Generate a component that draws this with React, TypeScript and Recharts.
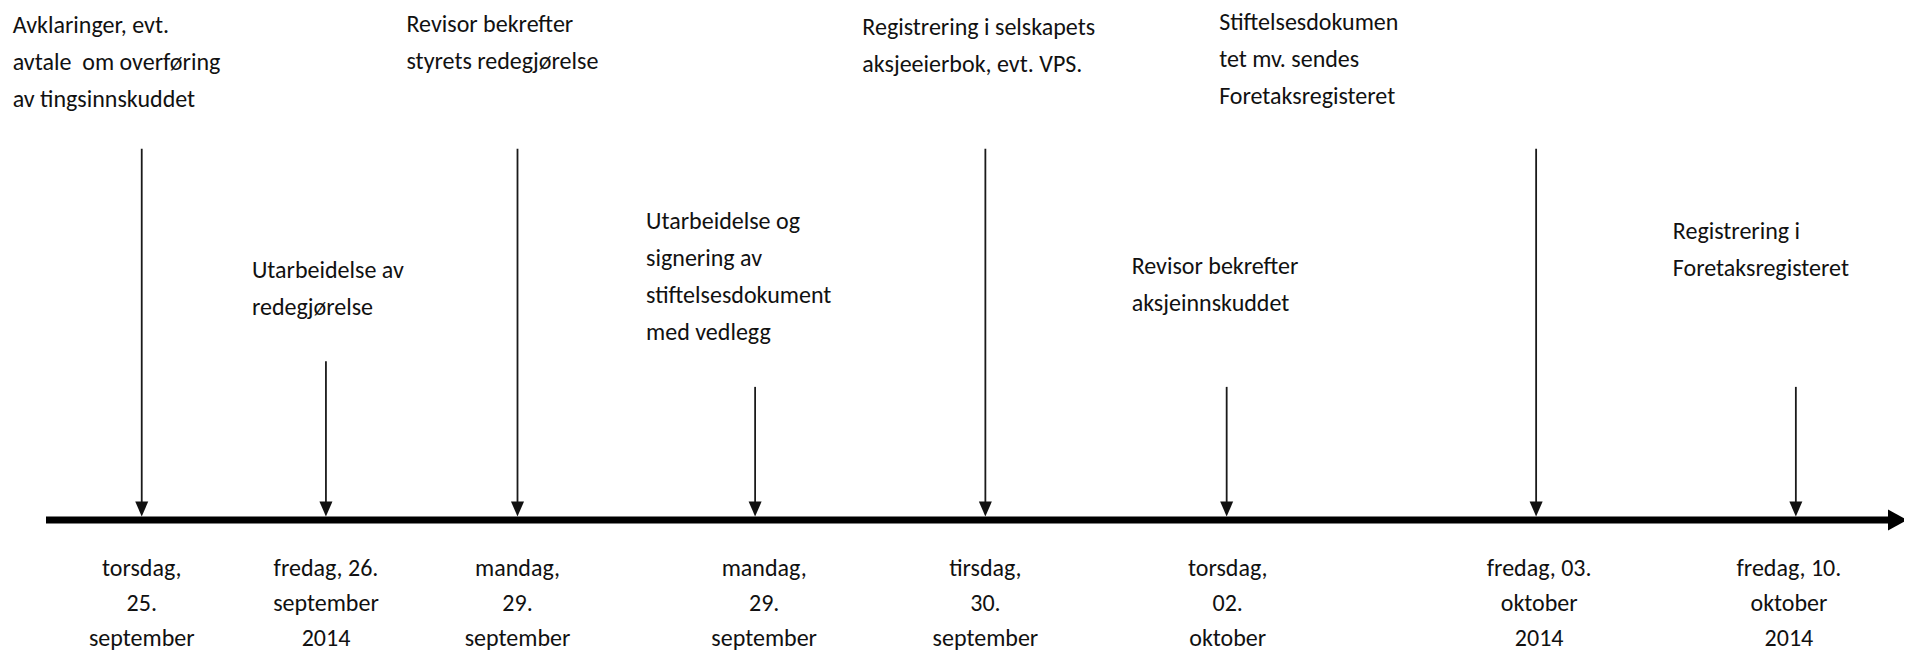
import { ComposedChart, XAxis, YAxis, Bar, Scatter } from 'recharts'

// where each event sits along the timeline (0 = start of axis, 100 = arrow end)
const EVENT_POS = [5.2, 15.2, 25.6, 38.5, 51.0, 64.1, 80.9, 95.0]
// how high each arrow starts above the axis
const EVENT_LEVEL = [72.5, 31, 72.5, 26, 72.5, 26, 72.5, 26]

const EVENT_TEXT = [
  ['Avklaringer, evt.', 'avtale  om overføring', 'av tingsinnskuddet'],
  ['Utarbeidelse av', 'redegjørelse'],
  ['Revisor bekrefter', 'styrets redegjørelse'],
  ['Utarbeidelse og', 'signering av', 'stiftelsesdokument', 'med vedlegg'],
  ['Registrering i selskapets', 'aksjeeierbok, evt. VPS.'],
  ['Revisor bekrefter', 'aksjeinnskuddet'],
  ['Stiftelsesdokumen', 'tet mv. sendes', 'Foretaksregisteret'],
  ['Registrering i', 'Foretaksregisteret'],
]

const DATE_TEXT = [
  ['torsdag,', '25.', 'september'],
  ['fredag, 26.', 'september', '2014'],
  ['mandag,', '29.', 'september'],
  ['mandag,', '29.', 'september'],
  ['tirsdag,', '30.', 'september'],
  ['torsdag,', '02.', 'oktober'],
  ['fredag, 03.', 'oktober', '2014'],
  ['fredag, 10.', 'oktober', '2014'],
]

// text box placement relative to the top of each arrow (px)
const LABEL_OFFSET = [
  [-129, -116], [-74, -83], [-111, -117], [-109, -158],
  [-123, -114], [-95, -113], [-317, -119], [-123, -148],
]
const DATE_SHIFT = [0, 0, 0, 9, 0, 1, 3, -7]

const FONT = 'Carlito, Calibri, Lato, sans-serif'
const FONT_SIZE = 24
const AXIS_W = 7

const data = EVENT_POS.map((pos, i) => ({ pos, level: EVENT_LEVEL[i], i }))
const axisEnd = [{ pos: 100, end: 0 }]

const ArrowShape = (props: any) => {
  const { x, y, width, height, payload } = props
  const i = payload.i
  const cx = x + width / 2
  const bottom = y + height - AXIS_W / 2
  const [dx, dy] = LABEL_OFFSET[i]
  return (
    <g>
      <line x1={cx} y1={y} x2={cx} y2={bottom - 13} stroke='#1a1a1a' strokeWidth={1.8} />
      <polygon points={`${cx - 6.5},${bottom - 15} ${cx + 6.5},${bottom - 15} ${cx},${bottom}`} fill='#111' />
      <text x={cx + dx} y={y + dy} fontFamily={FONT} fontSize={FONT_SIZE} fill='#111'>
        {EVENT_TEXT[i].map((t, k) => (
          <tspan key={k} x={cx + dx} dy={k === 0 ? 0 : 37} style={{ whiteSpace: 'pre' }}>{t}</tspan>
        ))}
      </text>
    </g>
  )
}

const AxisHead = (props: any) => {
  const { cx, cy } = props
  return <polygon points={`${cx},${cy - 10.5} ${cx + 19},${cy} ${cx},${cy + 10.5}`} fill='#000' />
}

const DateTick = (props: any) => {
  const { x, payload } = props
  const i = EVENT_POS.indexOf(payload.value)
  if (i < 0) return null
  const cx = x + DATE_SHIFT[i]
  return (
    <text x={cx} y={512 + 56} textAnchor='middle' fontFamily={FONT} fontSize={FONT_SIZE} fill='#111'>
      {DATE_TEXT[i].map((t, k) => (
        <tspan key={k} x={cx} dy={k === 0 ? 0 : 35}>{t}</tspan>
      ))}
    </text>
  )
}

export default function App() {
  return (
    <ComposedChart
      width={1904}
      height={643}
      data={data}
      margin={{ top: 0, right: 24, bottom: 0, left: 38 }}
    >
      <XAxis
        type='number'
        dataKey='pos'
        domain={[0, 100]}
        ticks={EVENT_POS}
        interval={0}
        height={131}
        axisLine={{ stroke: '#000', strokeWidth: AXIS_W }}
        tickLine={false}
        tick={<DateTick />}
      />
      <YAxis hide domain={[0, 100]} />
      <Bar dataKey='level' barSize={10} shape={<ArrowShape />} isAnimationActive={false} />
      <Scatter data={axisEnd} dataKey='end' shape={<AxisHead />} isAnimationActive={false} />
    </ComposedChart>
  )
}
